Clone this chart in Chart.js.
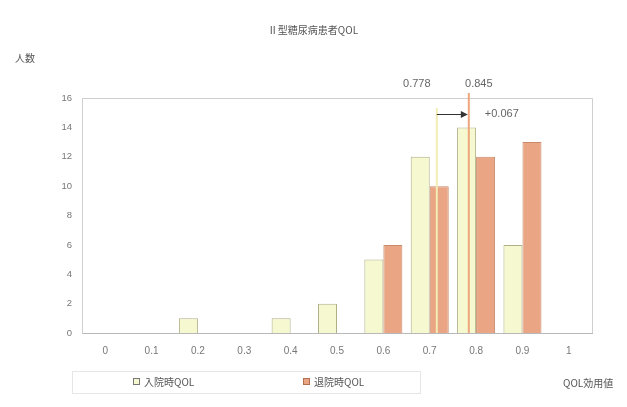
<!DOCTYPE html>
<html>
<head>
<meta charset="utf-8">
<script src="https://cdn.jsdelivr.net/npm/chart.js@4.4.1/dist/chart.umd.min.js"></script>
<style>
  html, body { margin: 0; padding: 0; background: #fff; }
  canvas { display: block; }
</style>
</head>
<body>
<canvas id="qolChart" width="627" height="407"></canvas>
<script>
// QOL utility distribution of type II diabetes patients, admission vs discharge
const categories = ['0', '0.1', '0.2', '0.3', '0.4', '0.5', '0.6', '0.7', '0.8', '0.9', '1'];
const admissionCounts = [0, 0, 1, 0, 1, 2, 5, 12, 14, 6, 0];
const dischargeCounts = [0, 0, 0, 0, 0, 0, 6, 10, 12, 13, 0];
const yTickValues = [0, 2, 4, 6, 8, 10, 12, 14, 16];
const admissionMean = 0.778;
const dischargeMean = 0.845;
const seriesNames = ['入院時QOL', '退院時QOL'];
const chartTitle = 'Ⅱ型糖尿病患者QOL';
const yAxisTitle = '人数';
const xAxisTitle = 'QOL効用値';

const FONT = '"Liberation Sans", "Noto Sans CJK JP", sans-serif';
const CJK = '"Noto Sans CJK JP", "Liberation Sans", sans-serif';
const TEXT = '#666';
const admissionFill = '#f6f8cf';
const admissionBorder = '#b0b088';
const dischargeFill = '#eaa584';
const dischargeBorder = '#c98a6a';

function fmt(v) { return v.toFixed(3); }

const decor = {
  id: 'decor',
  beforeDraw(chart) {
    const ctx = chart.ctx;
    ctx.save();
    ctx.fillStyle = '#fff';
    ctx.fillRect(0, 0, chart.width, chart.height);
    ctx.restore();
  },
  afterDatasetsDraw(chart) {
    const ctx = chart.ctx;
    const area = chart.chartArea;
    const ys = chart.scales.y;
    const xm = chart.scales.xMean;
    ctx.save();

    // plot frame (top and right edges)
    ctx.strokeStyle = '#cfcfcf';
    ctx.lineWidth = 1;
    ctx.beginPath();
    ctx.moveTo(area.left, area.top + 0.5);
    ctx.lineTo(area.right + 0.5, area.top + 0.5);
    ctx.lineTo(area.right + 0.5, area.bottom);
    ctx.stroke();

    // mean markers
    const xa = xm.getPixelForValue(admissionMean);
    const xd = xm.getPixelForValue(dischargeMean);
    const base = ys.getPixelForValue(0);

    ctx.strokeStyle = '#f2edb2';
    ctx.lineWidth = 2;
    ctx.beginPath();
    ctx.moveTo(xa, area.top + 10);
    ctx.lineTo(xa, base);
    ctx.stroke();

    ctx.strokeStyle = '#eea67c';
    ctx.lineWidth = 2;
    ctx.beginPath();
    ctx.moveTo(xd, area.top - 5);
    ctx.lineTo(xd, base);
    ctx.stroke();

    // arrow from admission mean to discharge mean
    const ay = area.top + 16;
    ctx.strokeStyle = '#333';
    ctx.fillStyle = '#333';
    ctx.lineWidth = 1;
    ctx.beginPath();
    ctx.moveTo(xa, ay + 0.5);
    ctx.lineTo(xd - 6, ay + 0.5);
    ctx.stroke();
    ctx.beginPath();
    ctx.moveTo(xd - 1, ay + 0.5);
    ctx.lineTo(xd - 8, ay - 3);
    ctx.lineTo(xd - 8, ay + 4);
    ctx.closePath();
    ctx.fill();

    ctx.fillStyle = TEXT;
    ctx.font = '11px ' + FONT;
    ctx.textBaseline = 'middle';
    ctx.textAlign = 'center';
    ctx.fillText(fmt(admissionMean), xa - 20, area.top - 14);
    ctx.fillText(fmt(dischargeMean), xd + 10, area.top - 14);
    ctx.textAlign = 'left';
    ctx.fillText('+' + fmt(dischargeMean - admissionMean), xd + 16, ay);

    ctx.restore();
  },
  afterDraw(chart) {
    const ctx = chart.ctx;
    ctx.save();
    ctx.fillStyle = '#555';
    ctx.textBaseline = 'middle';

    // title
    ctx.font = '10px ' + CJK;
    ctx.textAlign = 'center';
    ctx.fillText(chartTitle, 313, 30);

    // axis titles
    ctx.textAlign = 'left';
    ctx.fillText(yAxisTitle, 15, 58);
    ctx.fillText(xAxisTitle, 563, 383);

    // legend
    ctx.strokeStyle = '#e6e6e6';
    ctx.lineWidth = 1;
    ctx.strokeRect(72.5, 371.5, 348, 22);
    const items = [
      { x: 133, fill: admissionFill, border: '#777' },
      { x: 303, fill: dischargeFill, border: '#b07050' }
    ];
    items.forEach((it, i) => {
      ctx.fillStyle = it.fill;
      ctx.fillRect(it.x, 378, 7, 7);
      ctx.strokeStyle = it.border;
      ctx.strokeRect(it.x + 0.5, 378.5, 6, 6);
      ctx.fillStyle = '#555';
      ctx.font = '10px ' + CJK;
      ctx.fillText(seriesNames[i], it.x + 11, 382);
    });
    ctx.restore();
  }
};

new Chart(document.getElementById('qolChart'), {
  type: 'bar',
  data: {
    labels: categories,
    datasets: [
      {
        label: seriesNames[0],
        data: admissionCounts,
        backgroundColor: admissionFill,
        borderColor: admissionBorder,
        borderWidth: 1
      },
      {
        label: seriesNames[1],
        data: dischargeCounts,
        backgroundColor: dischargeFill,
        borderColor: dischargeBorder,
        borderWidth: 1
      }
    ]
  },
  options: {
    responsive: false,
    animation: false,
    devicePixelRatio: 1,
    categoryPercentage: 0.82,
    barPercentage: 1.0,
    layout: { padding: { left: 62, top: 98, right: 35, bottom: 44 } },
    plugins: {
      legend: { display: false },
      title: { display: false },
      tooltip: { enabled: false }
    },
    scales: {
      x: {
        grid: { display: false, drawTicks: false },
        border: { display: true, color: '#b8b8b8' },
        ticks: { color: '#777', font: { size: 10, family: FONT }, padding: 12, maxRotation: 0 },
        afterFit(s) { s.height = 30; }
      },
      // scale used to position the mean-value markers
      xMean: {
        type: 'linear',
        axis: 'x',
        position: 'bottom',
        display: false,
        offset: false,
        grid: { offset: false },
        min: 0.035,
        max: 1.103
      },
      y: {
        min: 0,
        max: 16,
        grid: { display: false, drawTicks: false },
        border: { display: true, color: '#cfcfcf' },
        afterBuildTicks(s) { s.ticks = yTickValues.map(v => ({ value: v })); },
        ticks: { color: '#777', font: { size: 9.5, family: FONT }, padding: 10 },
        afterFit(s) { s.width = 20; }
      }
    }
  },
  plugins: [decor]
});
</script>
</body>
</html>
